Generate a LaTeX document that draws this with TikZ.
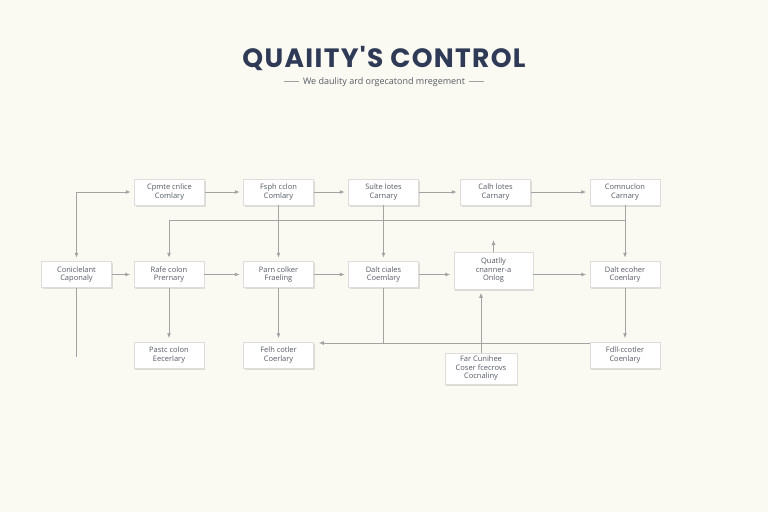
\documentclass[tikz,border=0pt]{standalone}
\usepackage{fontspec}
\setmainfont{Open Sans}
\newfontfamily\titlefont{Poppins}[LetterSpace=5]
\usetikzlibrary{arrows.meta,shadows,calc}
\definecolor{bgc}{HTML}{FBFAF2}
\definecolor{linec}{HTML}{A3A3A3}
\definecolor{boxc}{HTML}{DDDDDD}
\definecolor{txtc}{HTML}{555A66}
\definecolor{titlec}{HTML}{2F3A56}
\begin{document}
\begin{tikzpicture}[x=1pt,y=-1pt,
  box/.style={draw=boxc, line width=0.5pt, fill=white, minimum width=70pt, minimum height=26pt,
    inner sep=1pt, align=center, font=\fontsize{7.5}{8.5}\selectfont, text=txtc,
    drop shadow={shadow xshift=1pt, shadow yshift=-1.5pt, opacity=0.12, fill=black}},
  conn/.style={draw=linec, line width=0.8pt},
  arr/.style={conn, -{Latex[length=5pt,width=4pt]}, shorten >=3.5pt}]
\fill[bgc] (0,0) rectangle (768,512);
\useasboundingbox (0,0) rectangle (768,512);
% title
\node[font=\titlefont\bfseries\fontsize{26.5}{30}\selectfont, text=titlec] (title) at (384,58) {QUAIITY'S CONTROL};
\node[font=\fontsize{9}{10}\selectfont, text=txtc] (sub) at (384,82) {\textcolor{linec}{\rule[2.8pt]{15pt}{0.6pt}}\enspace We daulity ard orgecatond mregement\enspace\textcolor{linec}{\rule[2.8pt]{15pt}{0.6pt}}};
% row 1
\node[box] (A1) at (169.5,192) {Cpmte cnlice\\Comlary};
\node[box] (A2) at (278.5,192) {Fsph cclon\\Comlary};
\node[box] (A3) at (383.5,192) {Sulte lotes\\Carnary};
\node[box] (A4) at (495.5,192) {Calh lotes\\Carnary};
\node[box] (A5) at (625,192) {Comnuclon\\Carnary};
% row 2
\node[box] (B1) at (76.5,274.5) {Coniclelant\\Caponaly};
\node[box] (B2) at (169,274.5) {Rafe colon\\Prernary};
\node[box] (B3) at (278.5,274.5) {Parn colker\\Fraeling};
\node[box] (B4) at (383.5,274.5) {Dalt ciales\\Coemlary};
\node[box, minimum width=79pt, minimum height=37pt] (B5) at (493.5,270.5) {Quatlly\\cnanner-a\\Onlog};
\node[box] (B6) at (625,274.5) {Dalt ecoher\\Coenlary};
% row 3
\node[box] (C1) at (169,355) {Pastc colon\\Eecerlary};
\node[box] (C2) at (278.5,355) {Felh cotler\\Coerlary};
\node[box, minimum width=72pt, minimum height=31pt] (C3) at (481,368.5) {Far Cunihee\\Coser fcecrovs\\Cocnaliny};
\node[box] (C5) at (625,355) {Fdll-ccotler\\Coenlary};
% coordinates
\coordinate (j1) at (625,220);
\coordinate (j2) at (590,343);
\coordinate (up) at (493.5,240);
\coordinate (b1end) at (76.5,357);
% row 1 arrows
\draw[arr] (A1) -- (A2);
\draw[arr] (A2) -- (A3);
\draw[arr] (A3) -- (A4);
\draw[arr] (A4) -- (A5);
\draw[conn, {Latex[length=5pt,width=4pt]}-{Latex[length=5pt,width=4pt]}, shorten <=3.5pt, shorten >=3.5pt] (B1.north) |- (A1.west);
\draw[conn] (B1.south) -- (b1end);
% verticals from row 1
\draw[arr] (A5.south) -- (B6.north);
\draw[arr] (j1) -| (B2.north);
\draw[arr] (A2.south) -- (B3.north);
\draw[arr] (A3.south) -- (B4.north);
% row 2 arrows
\draw[arr] (B1) -- (B2);
\draw[arr] (B2) -- (B3);
\draw[arr] (B3) -- (B4);
\draw[arr] (B4.east) -- (B4.east -| B5.west);
\draw[arr] (B5.east |- B6.west) -- (B6.west);
\draw[conn, -{Latex[length=5pt,width=4pt]}] (B5.north) -- (up);
% row 2 to row 3
\draw[arr] (B2.south) -- (C1.north);
\draw[arr] (B3.south) -- (C2.north);
\draw[arr] (B6.south) -- (C5.north);
\draw[conn] (B4.south) -- (B4.south |- j2);
\draw[arr, shorten >=5pt] (j2) -- (j2 -| C2.east);
\draw[arr] (C3.north) -- (C3.north |- B5.south);
\end{tikzpicture}
\end{document}
